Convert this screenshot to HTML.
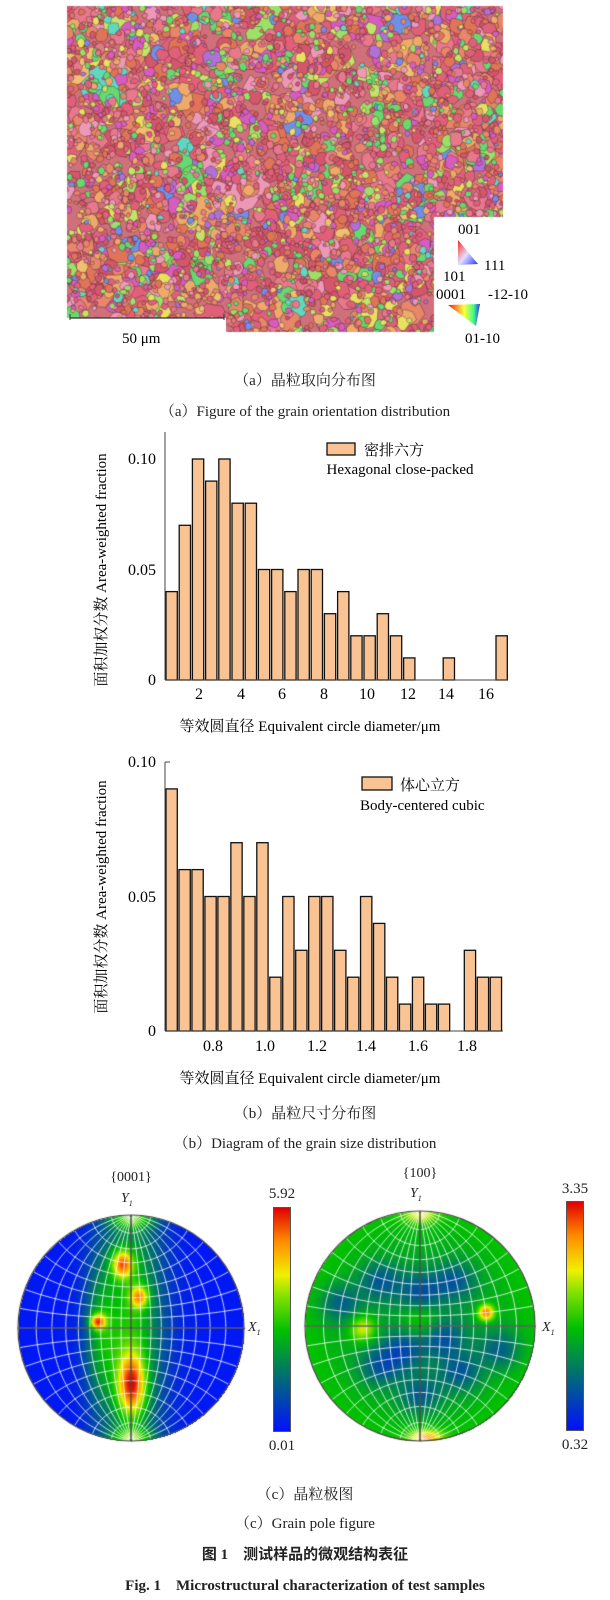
<!DOCTYPE html>
<html><head><meta charset="utf-8">
<style>
html,body{margin:0;padding:0;background:#fff;}
body{width:610px;height:1600px;position:relative;overflow:hidden;font-family:"Liberation Serif","Noto Serif CJK SC",serif;color:#222;}
.t{position:absolute;white-space:nowrap;}
canvas,svg{position:absolute;left:0;top:0;}
</style></head><body>
<canvas id="gm" width="610" height="340"></canvas>
<svg width="610" height="1600" style="position:absolute;left:0;top:0">
  <defs>
    <linearGradient id="ipf1" x1="0" y1="0" x2="1" y2="1">
      <stop offset="0" stop-color="#ff2020"/><stop offset="0.5" stop-color="#e0e0ff"/><stop offset="1" stop-color="#2030ff"/>
    </linearGradient>
    <linearGradient id="ipf2" x1="0" y1="0" x2="1" y2="0">
      <stop offset="0" stop-color="#ff1010"/><stop offset="0.5" stop-color="#ffff40"/><stop offset="0.8" stop-color="#40ff80"/><stop offset="1" stop-color="#3030ff"/>
    </linearGradient>
  </defs>
  <line x1="70" y1="318" x2="224" y2="318" stroke="#333" stroke-width="1.2"/>
  <line x1="70" y1="314" x2="70" y2="320" stroke="#333"/>
  <line x1="224" y1="314" x2="224" y2="320" stroke="#333"/>
  <polygon points="458,240 458,265 478,264" fill="url(#ipf1)"/>
  <polygon points="448,305 480,304 476,326" fill="url(#ipf2)"/>
  <text x="458" y="234" font-size="15" font-family="Liberation Serif">001</text>
  <text x="484" y="270" font-size="15" font-family="Liberation Serif">111</text>
  <text x="443" y="281" font-size="15" font-family="Liberation Serif">101</text>
  <text x="436" y="299" font-size="15" font-family="Liberation Serif">0001</text>
  <text x="488" y="299" font-size="15" font-family="Liberation Serif">-12-10</text>
  <text x="465" y="343" font-size="15" font-family="Liberation Serif">01-10</text>
  <text x="122" y="343" font-size="15" font-family="Liberation Serif">50 μm</text>
  <g id="c1"></g>
  <g id="c2"></g>
</svg>
<canvas id="pf" width="610" height="1600" style="pointer-events:none"></canvas>

<div class="t" style="left:0;width:610px;text-align:center;top:369px;font-size:15px;">（a）晶粒取向分布图</div>
<div class="t" style="left:0;width:610px;text-align:center;top:400px;font-size:15px;">（a）Figure of the grain orientation distribution</div>

<div class="t" style="left:0;width:610px;text-align:center;top:1102px;font-size:15px;">（b）晶粒尺寸分布图</div>
<div class="t" style="left:0;width:610px;text-align:center;top:1132px;font-size:15px;">（b）Diagram of the grain size distribution</div>

<div class="t" style="left:0;width:610px;text-align:center;top:1483px;font-size:15px;">（c）晶粒极图</div>
<div class="t" style="left:0;width:610px;text-align:center;top:1512px;font-size:15px;">（c）Grain pole figure</div>
<div class="t" style="left:0;width:610px;text-align:center;top:1543px;font-size:15px;font-weight:bold;font-family:'Liberation Serif','Noto Sans CJK SC',sans-serif;">图 1　测试样品的微观结构表征</div>
<div class="t" style="left:0;width:610px;text-align:center;top:1574px;font-size:15px;font-weight:bold;">Fig. 1　Microstructural characterization of test samples</div>

<div class="t" style="left:101px;top:1170px;font-size:14px;width:60px;text-align:center">{0001}</div>
<div class="t" style="left:121px;top:1191px;font-size:14px;font-style:italic">Y<sub style="font-size:8px">1</sub></div>
<div class="t" style="left:390px;top:1166px;font-size:14px;width:60px;text-align:center">{100}</div>
<div class="t" style="left:410px;top:1186px;font-size:14px;font-style:italic">Y<sub style="font-size:8px">1</sub></div>
<div class="t" style="left:248px;top:1320px;font-size:14px;font-style:italic">X<sub style="font-size:8px">1</sub></div>
<div class="t" style="left:542px;top:1320px;font-size:14px;font-style:italic">X<sub style="font-size:8px">1</sub></div>
<div class="t" style="left:262px;top:1186px;font-size:15px;width:40px;text-align:center">5.92</div>
<div class="t" style="left:262px;top:1438px;font-size:15px;width:40px;text-align:center">0.01</div>
<div class="t" style="left:555px;top:1181px;font-size:15px;width:40px;text-align:center">3.35</div>
<div class="t" style="left:555px;top:1437px;font-size:15px;width:40px;text-align:center">0.32</div>
<div style="position:absolute;left:273px;top:1207px;width:18px;height:225px;background:linear-gradient(to top,#0010ff 0%,#007070 25%,#00c000 45%,#80e000 60%,#f0f000 70%,#ff8c00 85%,#e00000 100%);border:1px solid #555;box-sizing:border-box"></div>
<div style="position:absolute;left:566px;top:1201px;width:18px;height:230px;background:linear-gradient(to top,#0010ff 0%,#007070 25%,#00c000 45%,#80e000 60%,#f0f000 70%,#ff8c00 85%,#e00000 100%);border:1px solid #555;box-sizing:border-box"></div>

<script>
function chart(g, x0, base, perUnit, spacing, heights, yTop, yticks, xticks, tickDy, legend, xend){
  let s='';
  heights.forEach((h,i)=>{ if(h>0){ const x=x0+i*spacing, y=base-h*perUnit;
    s+=`<rect x="${x}" y="${y}" width="11.3" height="${h*perUnit}" fill="#f9c394" stroke="#111" stroke-width="1.3"/>`;}});
  s+=`<line x1="165" y1="${yTop}" x2="165" y2="${base}" stroke="#444" stroke-width="1"/>`;
  s+=`<line x1="165" y1="${base}" x2="${xend}" y2="${base}" stroke="#444" stroke-width="1"/>`;
  yticks.forEach(t=>{s+=`<text x="156" y="${t[1]+5}" font-size="16" text-anchor="end" font-family="Liberation Serif">${t[0]}</text>`;});
  xticks.forEach(t=>{s+=`<text x="${t[1]}" y="${base+tickDy}" font-size="16" text-anchor="middle" font-family="Liberation Serif">${t[0]}</text>`;});
  s+=legend;
  g.innerHTML=s;
}
const h1=[4,7,10,9,10,8,8,5,5,4,5,5,3,4,2,2,3,2,1,0,0,1,0,0,0,2];
chart(document.getElementById('c1'),166,680,22.1,13.2,h1,432,[["0.10",459],["0.05",570],["0",680]],
 [["2",199],["4",241],["6",282],["8",324],["10",367],["12",408],["14",446],["16",486]],19,
 `<rect x="327" y="443" width="28" height="12" fill="#f9c394" stroke="#111" stroke-width="1.3"/>
  <text x="364" y="455" font-size="15" font-family="Liberation Serif,Noto Serif CJK SC,serif">密排六方</text>
  <text x="400" y="474" font-size="15" text-anchor="middle" font-family="Liberation Serif">Hexagonal close-packed</text>
  <text x="310" y="731" font-size="15" text-anchor="middle" font-family="Liberation Serif,Noto Serif CJK SC,serif">等效圆直径 Equivalent circle diameter/μm</text>
  <text transform="translate(106,570) rotate(-90)" font-size="15" text-anchor="middle" font-family="Liberation Serif,Noto Serif CJK SC,serif">面积加权分数 Area-weighted fraction</text>`,508);
const h2=[9,6,6,5,5,7,5,7,2,5,3,5,5,3,2,5,4,2,1,2,1,1,0,3,2,2];
chart(document.getElementById('c2'),166,1031,26.9,12.97,h2,762,[["0.10",762],["0.05",897],["0",1031]],
 [["0.8",213],["1.0",265],["1.2",317],["1.4",366],["1.6",418],["1.8",467]],20,
 `<line x1="165" y1="762" x2="170" y2="762" stroke="#444"/>
  <rect x="362" y="777" width="30" height="13" fill="#f9c394" stroke="#111" stroke-width="1.3"/>
  <text x="400" y="790" font-size="15" font-family="Liberation Serif,Noto Serif CJK SC,serif">体心立方</text>
  <text x="360" y="810" font-size="15" font-family="Liberation Serif">Body-centered cubic</text>
  <text x="310" y="1083" font-size="15" text-anchor="middle" font-family="Liberation Serif,Noto Serif CJK SC,serif">等效圆直径 Equivalent circle diameter/μm</text>
  <text transform="translate(106,897) rotate(-90)" font-size="15" text-anchor="middle" font-family="Liberation Serif,Noto Serif CJK SC,serif">面积加权分数 Area-weighted fraction</text>`,503);

(function(){
  const c=document.getElementById('gm').getContext('2d');
  let seed=12345; const r=()=>{seed=(seed*16807)%2147483647;return seed/2147483647;};
  c.save();
  c.beginPath();
  c.moveTo(67,6);c.lineTo(503,6);c.lineTo(503,217);c.lineTo(434,217);c.lineTo(434,332);
  c.lineTo(226,332);c.lineTo(226,318);c.lineTo(67,318);c.closePath();c.clip();
  c.fillStyle='#d0707a';c.fillRect(60,0,450,340);
  const cols=[['#e0607a',8],['#e8788c',6],['#d4566a',5],['#e8866a',5],['#e07458',4],['#eeaa6a',3],['#ee98b8',3],
   ['#d85cc0',3],['#b070d8',1.2],['#68d870',3],['#9ce068',2],['#c4e468',1.5],['#60d8c0',1],['#7090e8',1],['#e8e060',1],['#f0c070',1]];
  const tot=cols.reduce((a,b)=>a+b[1],0);
  const pick=()=>{let v=r()*tot;for(const k of cols){v-=k[1];if(v<=0)return k[0];}return cols[0][0];};
  const N=[[60,26,14],[400,14,8],[1100,8,4],[2200,4,2]];
  for(const [n,mx,mn] of N){
    for(let i=0;i<n;i++){
      const x=60+r()*450,y=r()*340,rx=mn+r()*(mx-mn),ry=rx*(0.7+r()*0.6);
      c.beginPath();
      const k=6+Math.floor(r()*3);
      for(let j=0;j<k;j++){const a=j/k*Math.PI*2+r()*0.4, f=0.8+r()*0.3;
        const px=x+Math.cos(a)*rx*f, py=y+Math.sin(a)*ry*f; j?c.lineTo(px,py):c.moveTo(px,py);}
      c.closePath();c.fillStyle=pick();c.fill();
      c.strokeStyle='rgba(50,30,35,0.6)';c.lineWidth=0.6;c.stroke();
    }
  }
  c.restore();
})();

(function(){
  const cv=document.getElementById('pf'),c=cv.getContext('2d');
  const stops=[[0,[0,16,255]],[0.25,[0,112,112]],[0.45,[0,192,0]],[0.6,[128,224,0]],[0.7,[240,240,0]],[0.85,[255,140,0]],[1,[224,0,0]]];
  function cmap(v){v=Math.max(0,Math.min(1,v));for(let i=1;i<stops.length;i++){if(v<=stops[i][0]){const a=stops[i-1],b=stops[i],t=(v-a[0])/(b[0]-a[0]);return a[1].map((q,k)=>q+(b[1][k]-q)*t);}}return stops[6][1];}
  const g=(u,v,x,y,s,sy)=>Math.exp(-((u-x)*(u-x)/(2*s*s)+(v-y)*(v-y)/(2*(sy||s)*(sy||s))));
  function f1(u,v){
    let val=0.02;
    val+=0.45*g(u,v,0.0,0,0.2,0.9);
    val+=0.25*g(u,v,-0.28,0.05,0.1,0.45);
    val+=0.55*g(u,v,-0.08,-0.57,0.07,0.09);
    val+=0.45*g(u,v,0.07,-0.28,0.06,0.07);
    val+=0.55*g(u,v,-0.3,-0.06,0.05,0.05);
    val+=0.6*g(u,v,0.0,0.5,0.09,0.2);
    val+=0.3*g(u,v,0.0,0.97,0.15,0.06)+0.3*g(u,v,0,-0.97,0.15,0.06);
    return val;
  }
  function f2(u,v){
    let val=0.36;
    val+=0.1*(u*u+v*v);
    const b=[[-0.35,-0.4],[0.3,-0.4],[-0.35,0.35],[0.35,0.4],[0,-0.3],[0,0.6],[-0.7,-0.2],[0.7,0.2],[-0.15,0.2],[0.2,0.1]];
    b.forEach(p=>{val-=0.2*g(u,v,p[0],p[1],0.13,0.12);});
    val+=0.3*g(u,v,-0.5,0.02,0.08,0.08)+0.5*g(u,v,0.57,-0.12,0.05,0.05);
    val+=0.15*g(u,v,0,-0.05,0.12,0.1);
    val+=0.4*g(u,v,0.05,0.97,0.1,0.05)+0.25*g(u,v,0,-0.97,0.1,0.05);
    return val;
  }
  function draw(cx,cy,R,f){
    const x0=Math.floor(cx-R),y0=Math.floor(cy-R),w=Math.ceil(2*R)+1;
    const img=c.createImageData(w,w);
    for(let j=0;j<w;j++)for(let i=0;i<w;i++){
      const u=(x0+i-cx)/R,v=(y0+j-cy)/R;if(u*u+v*v>1)continue;
      const col=cmap(f(u,v));const p=(j*w+i)*4;
      img.data[p]=col[0];img.data[p+1]=col[1];img.data[p+2]=col[2];img.data[p+3]=255;}
    c.putImageData(img,x0,y0);
    c.save();c.beginPath();c.arc(cx,cy,R,0,Math.PI*2);c.clip();
    c.strokeStyle='rgba(255,255,255,0.8)';c.lineWidth=1;
    const P=(lam,phi)=>{const k=2/(1+Math.cos(phi)*Math.cos(lam));return [cx+R/2*k*Math.cos(phi)*Math.sin(lam),cy-R/2*k*Math.sin(phi)];};
    const d=Math.PI/180;
    for(let L=-90;L<=90;L+=10){c.beginPath();for(let p=-89;p<=89;p+=2){const q=P(L*d,p*d);p==-89?c.moveTo(q[0],q[1]):c.lineTo(q[0],q[1]);}c.stroke();}
    for(let F=-80;F<=80;F+=10){c.beginPath();for(let l=-90;l<=90;l+=2){const q=P(l*d,F*d);l==-90?c.moveTo(q[0],q[1]):c.lineTo(q[0],q[1]);}c.stroke();}
    c.restore();
    c.strokeStyle='#222';c.lineWidth=1.2;
    c.beginPath();c.moveTo(cx-R,cy);c.lineTo(cx+R,cy);c.moveTo(cx,cy-R);c.lineTo(cx,cy+R);c.stroke();
    c.beginPath();c.arc(cx,cy,R,0,Math.PI*2);c.strokeStyle='#444';c.stroke();
  }
  draw(131,1328,113,f1);
  draw(420,1326,115,f2);
})();
</script>
</body></html>
